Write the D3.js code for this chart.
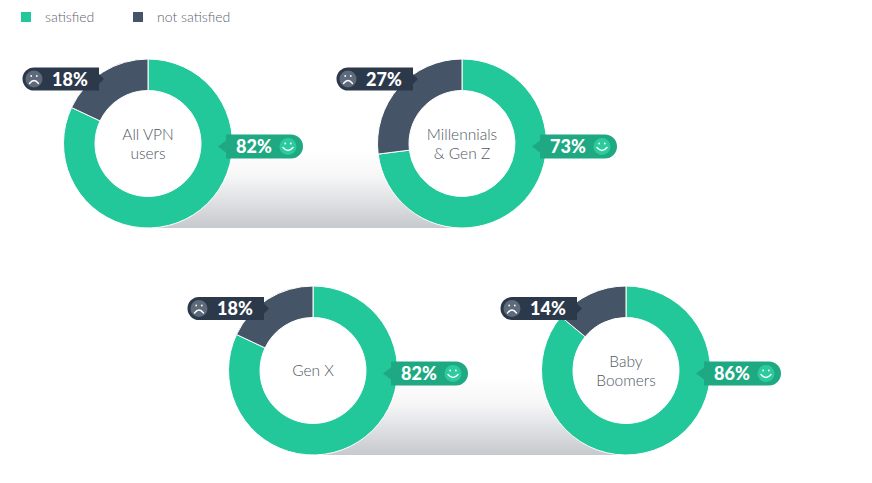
<!DOCTYPE html>
<html>
<head>
<meta charset="utf-8">
<script src="https://cdn.jsdelivr.net/npm/d3@7"></script>
<style>
  body { margin: 0; background: #fff; }
  svg { display: block; font-family: "Lato", "Open Sans", sans-serif; }
</style>
</head>
<body>
<svg id="chart"></svg>
<script>
var groups = [["All VPN", "users"], ["Millennials", "& Gen Z"], ["Gen X"], ["Baby", "Boomers"]];
var satisfied = [82, 73, 82, 86];
var notSatisfied = [18, 27, 18, 14];
var legendLabels = ["satisfied", "not satisfied"];

var width = 872,
    height = 483,
    outerR = 84.5,
    innerR = 53,
    colSat = "#22c79a",
    colNot = "#465467";

// centres of the four rings (layout, not data)
var centres = [[148, 143.5], [462, 143.5], [313, 370.5], [626, 370.5]];

var svg = d3.select("#chart").attr("width", width).attr("height", height);
var defs = svg.append("defs");
var grad = defs.append("linearGradient")
    .attr("id", "band").attr("x1", 0).attr("y1", 0).attr("x2", 0).attr("y2", 1);
grad.append("stop").attr("offset", "0%").attr("stop-color", "#ffffff");
grad.append("stop").attr("offset", "35%").attr("stop-color", "#f6f6f7");
grad.append("stop").attr("offset", "100%").attr("stop-color", "#c6c9cd");

// legend
var legend = svg.append("g").attr("class", "legend");
var legendX = [21, 133];
legendLabels.forEach(function(l, i) {
    legend.append("rect")
        .attr("x", legendX[i]).attr("y", 12)
        .attr("width", 10).attr("height", 10)
        .attr("fill", i === 0 ? colSat : colNot);
    legend.append("text")
        .attr("x", legendX[i] + 24).attr("y", 22)
        .attr("font-size", 14).attr("font-weight", 300)
        .attr("fill", "#5b6370")
        .text(l);
});

// grey bands joining each row
[[0, 1], [2, 3]].forEach(function(p) {
    var a = centres[p[0]], b = centres[p[1]];
    svg.append("rect")
        .attr("x", a[0]).attr("y", a[1] + 6)
        .attr("width", b[0] - a[0])
        .attr("height", outerR - 6)
        .attr("fill", "url(#band)");
});

var pie = d3.pie().sort(null).value(function(d) { return d; });
var arc = d3.arc().innerRadius(innerR).outerRadius(outerR);

groups.forEach(function(name, i) {
    var c = centres[i];
    var g = svg.append("g")
        .attr("class", "donut")
        .attr("transform", "translate(" + c[0] + "," + c[1] + ")");

    g.append("circle").attr("r", innerR).attr("fill", "#fff");

    g.selectAll("path.slice")
        .data(pie([satisfied[i], notSatisfied[i]]))
        .enter().append("path")
        .attr("class", "slice")
        .attr("d", arc)
        .attr("fill", function(d, j) { return j === 0 ? colSat : colNot; })
        .attr("stroke", "#fff")
        .attr("stroke-width", 1);

    var t = g.append("text")
        .attr("text-anchor", "middle")
        .attr("font-size", 15.5)
        .attr("font-weight", 300)
        .attr("fill", "#4f5763");
    name.forEach(function(line, k) {
        t.append("tspan")
            .attr("x", 0)
            .attr("y", (k - (name.length - 1) / 2) * 19 + 5.5)
            .text(line);
    });

    // satisfied badge (right)
    var s = g.append("g").attr("transform", "translate(0,3)");
    s.append("path")
        .attr("d", "M70,0 L78,-6 L78,-12 L143,-12 A12,12 0 0 1 143,12 L78,12 L78,6 Z")
        .attr("fill", "#1fa983");
    s.append("text")
        .attr("x", 88).attr("y", 6.5)
        .attr("font-size", 18).attr("font-weight", 900)
        .attr("fill", "#fff")
        .text(satisfied[i] + "%");
    s.append("circle").attr("cx", 140).attr("cy", 0).attr("r", 8.5).attr("fill", "#2ccb9d");
    s.append("path")
        .attr("d", "M135,1 Q140,7 145,1")
        .attr("fill", "none").attr("stroke", "#fff").attr("stroke-width", 1.4)
        .attr("stroke-linecap", "round");
    s.selectAll(".eye").data([-2.8, 2.8]).enter().append("circle")
        .attr("cx", function(d) { return 140 + d; }).attr("cy", -3).attr("r", 0.9).attr("fill", "#fff");

    // not satisfied badge (upper left)
    var n = g.append("g").attr("transform", "translate(0," + (i < 2 ? -64.5 : -62) + ")");
    n.append("path")
        .attr("d", "M-44,0 L-49,-5 L-49,-11.5 L-114,-11.5 A11.5,11.5 0 0 0 -114,11.5 L-49,11.5 L-49,5 Z")
        .attr("fill", "#2c394b");
    n.append("circle").attr("cx", -114).attr("cy", 0).attr("r", 8.5).attr("fill", "#5e6979");
    n.append("path")
        .attr("d", "M-118.5,4.5 Q-114,-1.5 -109.5,4.5")
        .attr("fill", "none").attr("stroke", "#fff").attr("stroke-width", 1.3)
        .attr("stroke-linecap", "round");
    n.selectAll(".eye").data([-2.8, 2.8]).enter().append("circle")
        .attr("cx", function(d) { return -114 + d; }).attr("cy", -3).attr("r", 0.9).attr("fill", "#fff");
    n.append("text")
        .attr("x", -96).attr("y", 6.5)
        .attr("font-size", 18).attr("font-weight", 900)
        .attr("fill", "#fff")
        .text(notSatisfied[i] + "%");
});
</script>
</body>
</html>
